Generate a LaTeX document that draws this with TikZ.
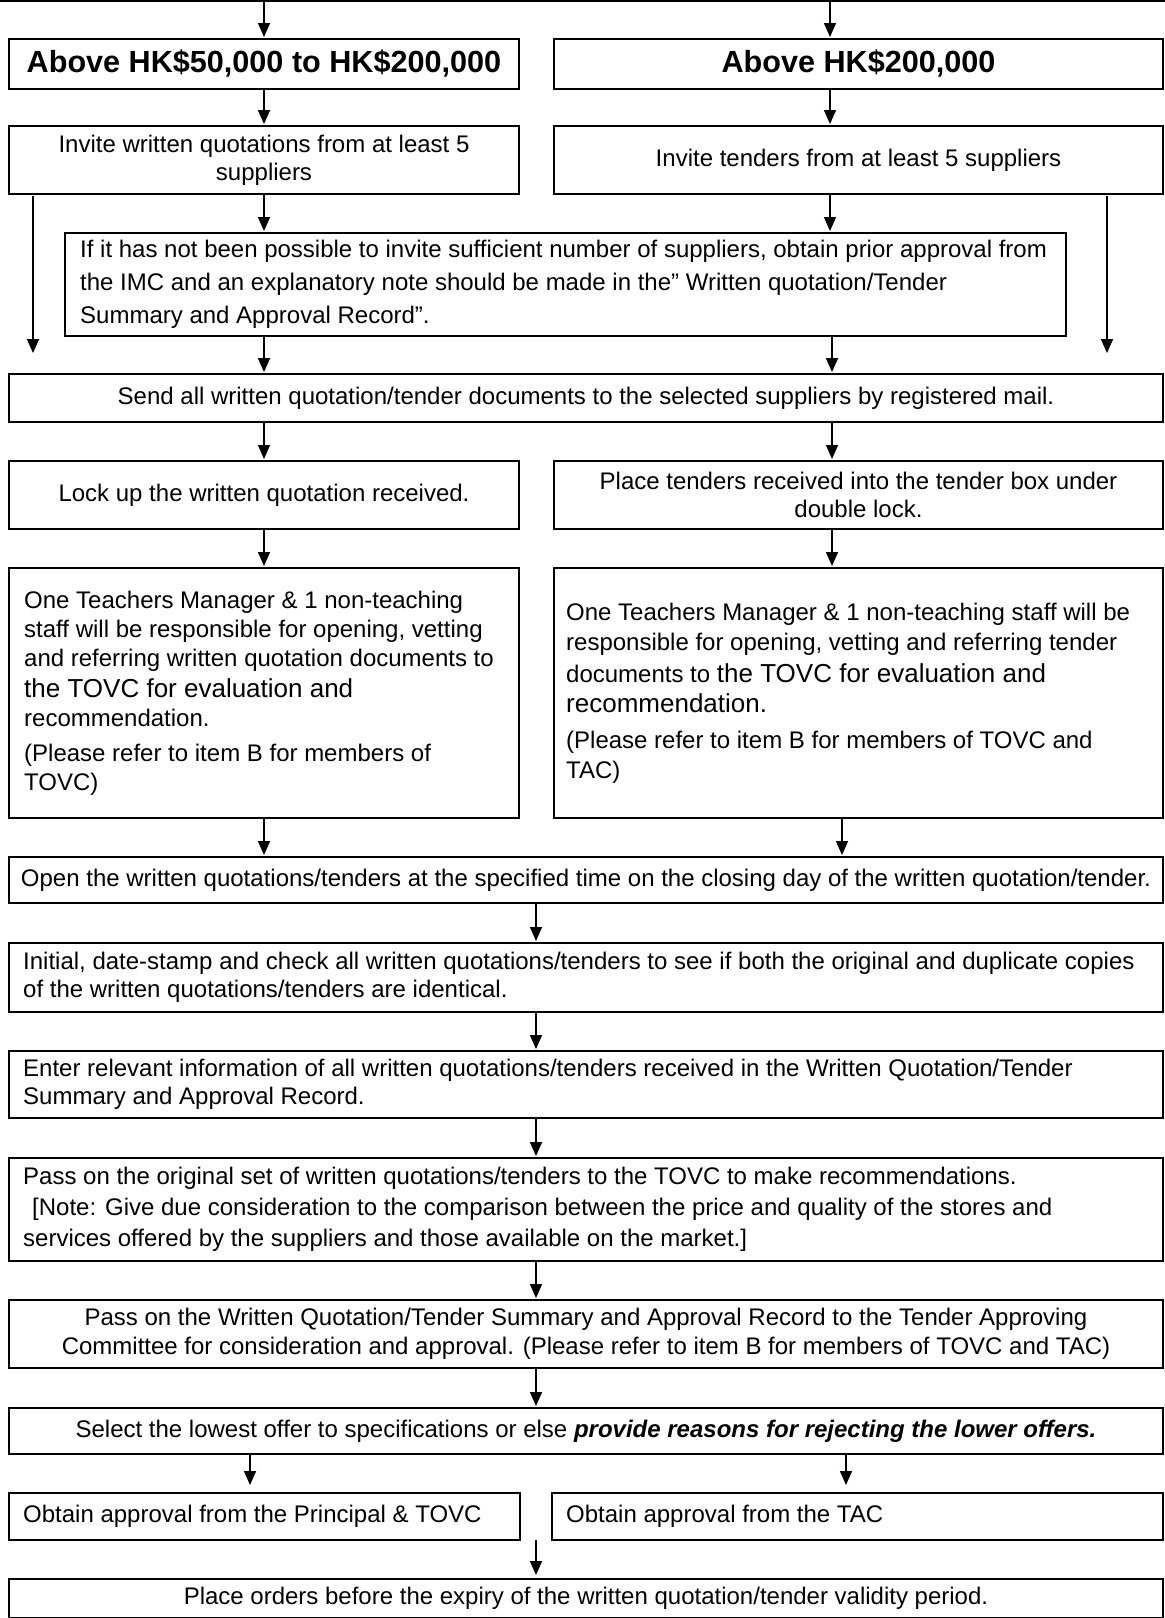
\documentclass[tikz,border=0pt]{standalone}
\usepackage{fontspec}
\setmainfont{Liberation Sans}
\usetikzlibrary{arrows.meta}
\newcommand\fs[2]{\fontsize{#1}{#2}\selectfont}
\newcommand\boxat[5]{\node[frame, minimum width={#4-#2}, minimum height={#5-#3}] (#1) at (#2,#3) {};}
\begin{document}
\begin{tikzpicture}[x=1pt,y=-1pt,
  frame/.style={draw, line width=2pt, anchor=north west, inner sep=0pt},
  txt/.style={inner sep=0pt, font=\fs{24}{28}},
  head/.style={inner sep=0pt, font={\fs{30.6}{34}\bfseries}},
  arr/.style={line width=1.6pt, -{Triangle[length=14pt,width=12pt]}, shorten >=1pt},
]
\useasboundingbox (0,0) rectangle (1165,1618);
% top line
\coordinate (tl) at (0,1);
\coordinate (tr) at (1165,1);
\draw[line width=2pt] (tl) -- (tr);
% columns
\coordinate (cA) at (264,0);
\coordinate (cB) at (830,0);
\coordinate (cB2) at (832,0);
\coordinate (cB3) at (842,0);
\coordinate (cM) at (536,0);
\coordinate (cJA) at (250,0);
\coordinate (cJB) at (846,0);
% frames
\boxat{A1}{8}{38}{518}{88}
\boxat{B1}{553}{38}{1162}{88}
\boxat{A2}{8}{125}{518}{193}
\boxat{B2}{553}{125}{1162}{193}
\boxat{C}{64}{232}{1065}{335}
\boxat{D}{8}{373}{1162}{421}
\boxat{A3}{8}{460}{518}{528}
\boxat{B3}{553}{460}{1162}{528}
\boxat{A4}{8}{567}{518}{817}
\boxat{B4}{553}{567}{1162}{817}
\boxat{E}{8}{856}{1162}{902}
\boxat{F}{8}{942}{1162}{1011}
\boxat{G}{8}{1050}{1162}{1117}
\boxat{H}{8}{1157}{1162}{1260}
\boxat{I}{8}{1299}{1162}{1367}
\boxat{J}{8}{1407}{1162}{1453}
\boxat{K1}{8}{1492}{519}{1539}
\boxat{K2}{551}{1492}{1162}{1539}
\boxat{L}{8}{1578}{1162}{1617}
% texts
\node[head] (A1t) at (A1) {Above HK\$50,000 to HK\$200,000};
\node[head] (B1t) at (B1) {Above HK\$200,000};
\node[txt, align=center] (A2t) at (A2) {Invite written quotations from at least 5\\suppliers};
\node[txt, align=center] (B2t) at (B2) {Invite tenders from at least 5 suppliers};
\node[txt, align=left, anchor=west, font=\fs{24}{33}] (Ct) at ([xshift=16pt]C.west) {If it has not been possible to invite sufficient number of suppliers, obtain prior approval from\\the IMC and an explanatory note should be made in the” Written quotation/Tender\\Summary and Approval Record”.};
\node[txt, align=center] (Dt) at (D) {Send all written quotation/tender documents to the selected suppliers by registered mail.};
\node[txt, align=center] (A3t) at (A3) {Lock up the written quotation received.};
\node[txt, align=center] (B3t) at (B3) {Place tenders received into the tender box under\\double lock.};
\node[txt, align=left, anchor=west, font=\fs{24}{29}] (A4t) at ([xshift=16pt]A4.west) {One Teachers Manager \& 1 non-teaching\\staff will be responsible for opening, vetting\\and referring written quotation documents to\\[2pt]\fs{26}{33}the TOVC for evaluation and\\recommendation.\\[6pt](Please refer to item B for members of\\TOVC)};
\node[txt, align=left, anchor=west, font=\fs{24}{30}] (B4t) at ([xshift=13pt]B4.west) {One Teachers Manager \& 1 non-teaching staff will be\\responsible for opening, vetting and referring tender\\[2pt]documents to {\fs{26}{33}the TOVC for evaluation and}\\\fs{26}{33}recommendation.\\[6pt](Please refer to item B for members of TOVC and\\TAC)};
\node[txt, align=center] (Et) at (E) {Open the written quotations/tenders at the specified time on the closing day of the written quotation/tender.};
\node[txt, align=left, anchor=west] (Ft) at ([xshift=15pt]F.west) {Initial, date-stamp and check all written quotations/tenders to see if both the original and duplicate copies\\of the written quotations/tenders are identical.};
\node[txt, align=left, anchor=west] (Gt) at ([xshift=15pt]G.west) {Enter relevant information of all written quotations/tenders received in the Written Quotation/Tender\\Summary and Approval Record.};
\node[txt, align=left, anchor=west, font=\fs{24}{31}] (Ht) at ([xshift=15pt]H.west) {Pass on the original set of written quotations/tenders to the TOVC to make recommendations.\\\hspace*{9pt}[Note: Give due consideration to the comparison between the price and quality of the stores and\\services offered by the suppliers and those available on the market.]};
\node[txt, align=center, font=\fs{24}{29}] (It) at (I) {Pass on the Written Quotation/Tender Summary and Approval Record to the Tender Approving\\Committee for consideration and approval. (Please refer to item B for members of TOVC and TAC)};
\node[txt, align=center] (Jt) at (J) {Select the lowest offer to specifications or else \textbf{\textit{provide reasons for rejecting the lower offers.}}};
\node[txt, anchor=west] (K1t) at ([xshift=15pt]K1.west) {Obtain approval from the Principal \& TOVC};
\node[txt, anchor=west] (K2t) at ([xshift=15pt]K2.west) {Obtain approval from the TAC};
\node[txt, align=center] (Lt) at (L) {Place orders before the expiry of the written quotation/tender validity period.};
% arrows
\draw[arr] (tl -| cA) -- (A1.north -| cA);
\draw[arr] (tl -| cB) -- (B1.north -| cB);
\draw[arr] (A1.south -| cA) -- (A2.north -| cA);
\draw[arr] (B1.south -| cB) -- (B2.north -| cB);
\draw[arr] (A2.south -| cA) -- (C.north -| cA);
\draw[arr] (B2.south -| cB) -- (C.north -| cB);
\coordinate (sLa) at (33,196);
\coordinate (sLb) at (33,354);
\coordinate (sRa) at (1107,196);
\coordinate (sRb) at (1107,354);
\draw[arr] (sLa) -- (sLb);
\draw[arr] (sRa) -- (sRb);
\draw[arr] (C.south -| cA) -- (D.north -| cA);
\draw[arr] (C.south -| cB2) -- (D.north -| cB2);
\draw[arr] (D.south -| cA) -- (A3.north -| cA);
\draw[arr] (D.south -| cB2) -- (B3.north -| cB2);
\draw[arr] (A3.south -| cA) -- (A4.north -| cA);
\draw[arr] (B3.south -| cB2) -- (B4.north -| cB2);
\draw[arr] (A4.south -| cA) -- (E.north -| cA);
\draw[arr] (B4.south -| cB3) -- (E.north -| cB3);
\draw[arr] (E.south -| cM) -- (F.north -| cM);
\draw[arr] (F.south -| cM) -- (G.north -| cM);
\draw[arr] (G.south -| cM) -- (H.north -| cM);
\draw[arr] (H.south -| cM) -- (I.north -| cM);
\draw[arr] (I.south -| cM) -- (J.north -| cM);
\draw[arr, shorten >=7pt] (J.south -| cJA) -- (K1.north -| cJA);
\draw[arr, shorten >=7pt] (J.south -| cJB) -- (K2.north -| cJB);
\coordinate (kL) at (536,1540);
\draw[arr, shorten >=3pt] (kL) -- (L.north -| kL);
\end{tikzpicture}
\end{document}
